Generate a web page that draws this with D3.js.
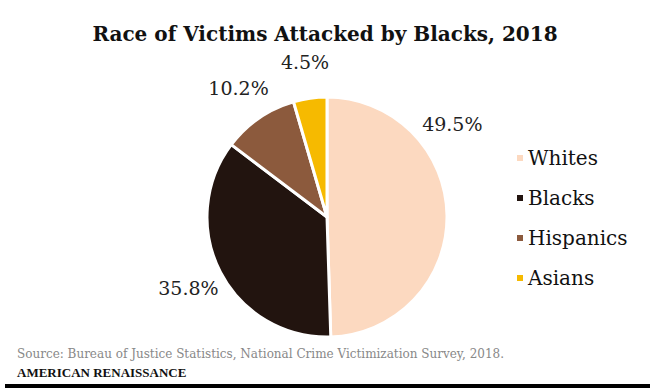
<!DOCTYPE html>
<html>
<head>
<meta charset="utf-8">
<script src="https://cdn.jsdelivr.net/npm/d3@7"></script>
<style>
  html, body { margin: 0; padding: 0; background: #fff; }
  svg { display: block; }
</style>
</head>
<body>
<div id="chart"></div>
<script>
// Data
const categories = ['Whites', 'Blacks', 'Hispanics', 'Asians'];
const shares     = [49.5, 35.8, 10.2, 4.5];
const colours    = ['#FCD9C0', '#22140F', '#8C5A3D', '#F6BA00'];

const TITLE  = 'Race of Victims Attacked by Blacks, 2018';
const SOURCE = 'Source: Bureau of Justice Statistics, National Crime Victimization Survey, 2018.';
const BRAND  = 'AMERICAN RENAISSANCE';

const FONT_SERIF = "'DejaVu Serif', 'Liberation Serif', serif";

const W = 650, H = 388;
const cx = 327, cy = 217, radius = 120;

const svg = d3.select('#chart').append('svg')
  .attr('width', W)
  .attr('height', H)
  .attr('viewBox', `0 0 ${W} ${H}`);

// Title
svg.append('text')
  .attr('x', 325)
  .attr('y', 41)
  .attr('text-anchor', 'middle')
  .style('font-family', FONT_SERIF)
  .style('font-weight', 'bold')
  .style('font-size', '20px')
  .style('fill', '#111')
  .text(TITLE);

// Pie
const data = categories.map((c, i) => ({ name: c, value: shares[i], colour: colours[i] }));

const pie = d3.pie()
  .value(d => d.value)
  .sort(null);

const arc = d3.arc()
  .innerRadius(0)
  .outerRadius(radius);

const arcs = pie(data);

const g = svg.append('g')
  .attr('transform', `translate(${cx},${cy})`);

g.selectAll('.slice')
  .data(arcs)
  .join('path')
  .attr('class', 'slice')
  .attr('d', arc)
  .attr('fill', d => d.data.colour)
  .attr('stroke', '#fff')
  .attr('stroke-width', 3)
  .attr('stroke-linejoin', 'round');

// Value labels outside the pie; large slices get their label pulled
// toward the start of the slice, like the spreadsheet's best-fit placement
function labelAngle(d) {
  const span = d.endAngle - d.startAngle;
  return span > Math.PI * 0.8 ? d.startAngle + span * 0.3 : (d.startAngle + d.endAngle) / 2;
}
const labelR = radius * 1.3;

g.selectAll('.pct')
  .data(arcs)
  .join('text')
  .attr('class', 'pct')
  .attr('x', d => Math.sin(labelAngle(d)) * labelR)
  .attr('y', d => -Math.cos(labelAngle(d)) * labelR)
  .attr('dy', '0.35em')
  .attr('text-anchor', 'middle')
  .style('font-family', FONT_SERIF)
  .style('font-size', '19px')
  .style('fill', '#222')
  .text(d => `${d.data.value.toFixed(1)}%`);

// Legend
const legendX = 517, legendY = 158, legendStep = 40;
const legend = svg.append('g')
  .attr('transform', `translate(${legendX},${legendY})`);

const item = legend.selectAll('.item')
  .data(data)
  .join('g')
  .attr('class', 'item')
  .attr('transform', (d, i) => `translate(0,${i * legendStep})`);

item.append('rect')
  .attr('x', 0)
  .attr('y', -3)
  .attr('width', 6)
  .attr('height', 6)
  .attr('fill', d => d.colour);

item.append('text')
  .attr('x', 11)
  .attr('y', 0)
  .attr('dy', '0.35em')
  .style('font-family', FONT_SERIF)
  .style('font-size', '20px')
  .style('fill', '#111')
  .text(d => d.name);

// Footer
svg.append('text')
  .attr('x', 17)
  .attr('y', 358)
  .style('font-family', FONT_SERIF)
  .style('font-size', '12px')
  .style('fill', '#888')
  .text(SOURCE);

svg.append('text')
  .attr('x', 17)
  .attr('y', 377)
  .style('font-family', "'Liberation Serif', serif")
  .style('font-weight', 'bold')
  .style('font-size', '13px')
  .style('fill', '#111')
  .text(BRAND);

svg.append('rect')
  .attr('x', 5)
  .attr('y', 384)
  .attr('width', W - 5)
  .attr('height', 4)
  .attr('fill', '#000');
</script>
</body>
</html>
